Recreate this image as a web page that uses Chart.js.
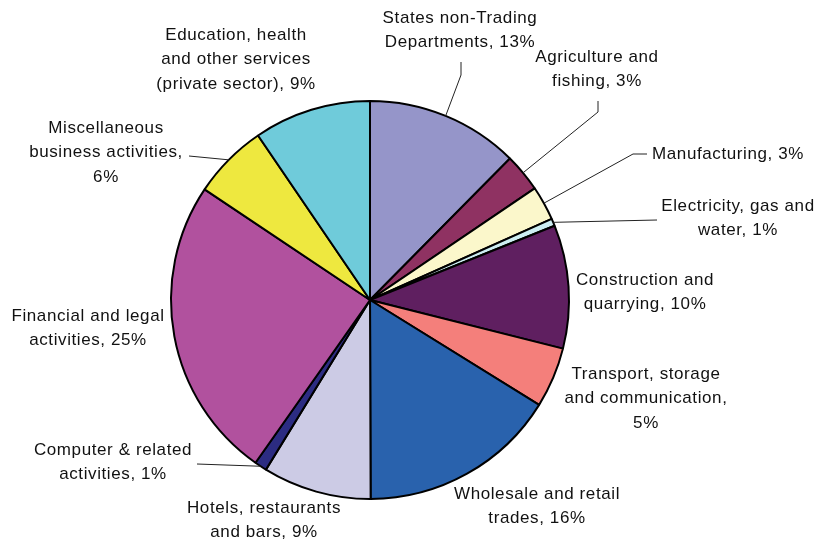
<!DOCTYPE html>
<html>
<head>
<meta charset="utf-8">
<script src="https://cdn.jsdelivr.net/npm/chart.js@4.4.0/dist/chart.umd.min.js"></script>
<style>
  html, body { margin: 0; padding: 0; background: #fff; }
  #wrap { width: 821px; height: 542px; position: relative; }
</style>
</head>
<body>
<div id="wrap"><canvas id="pieChart" width="821" height="542"></canvas></div>
<script>
// data, clockwise from 12 o'clock
const categories = [
    'States non-Trading Departments',
    'Agriculture and fishing',
    'Manufacturing',
    'Electricity, gas and water',
    'Construction and quarrying',
    'Transport, storage and communication',
    'Wholesale and retail trades',
    'Hotels, restaurants and bars',
    'Computer & related activities',
    'Financial and legal activities',
    'Miscellaneous business activities',
    'Education, health and other services (private sector)'
];
const shares = [12.4, 3.1, 2.8, 0.6, 10.0, 4.9, 16.1, 8.8, 1.0, 24.6, 6.1, 9.5];
const shownPercents = [13, 3, 3, 1, 10, 5, 16, 9, 1, 25, 6, 9];
const sliceColors = [
    '#9595c9', '#8f3262', '#fbf7cb', '#cdeef2', '#5f1f60', '#f47f7b',
    '#2962ad', '#cccbe5', '#2c2c82', '#b1519e', '#eee83f', '#6fcbda'
];
// wrapped label text, {p} = shown percentage
const labelLines = [
    ['States non-Trading', 'Departments, {p}%'],
    ['Agriculture and', 'fishing, {p}%'],
    ['Manufacturing, {p}%'],
    ['Electricity, gas and', 'water, {p}%'],
    ['Construction and', 'quarrying, {p}%'],
    ['Transport, storage', 'and communication,', '{p}%'],
    ['Wholesale and retail', 'trades, {p}%'],
    ['Hotels, restaurants', 'and bars, {p}%'],
    ['Computer & related', 'activities, {p}%'],
    ['Financial and legal', 'activities, {p}%'],
    ['Miscellaneous', 'business activities,', '{p}%'],
    ['Education, health', 'and other services', '(private sector), {p}%']
];

// label placement: text centre of first line + leader line points (ending on the slice)
const labelPlaces = [
    { x: 460, y: 18, leader: [[461, 62], [461, 75]] },
    { x: 597, y: 57, leader: [[598, 101], [598, 112]] },
    { x: 728, y: 154, leader: [[647, 154], [633, 154]] },
    { x: 738, y: 206, leader: [[657, 220]] },
    { x: 645, y: 280 },
    { x: 646, y: 374 },
    { x: 537, y: 494 },
    { x: 264, y: 508 },
    { x: 113, y: 450, leader: [[197, 464]] },
    { x: 88, y: 316 },
    { x: 106, y: 128, leader: [[189, 156]] },
    { x: 236, y: 35 }
];

const sliceLabels = {
    id: 'sliceLabels',
    afterDraw(chart) {
        const ctx = chart.ctx;
        const arcs = chart.getDatasetMeta(0).data;
        ctx.save();
        arcs.forEach((arc, i) => {
            const place = labelPlaces[i];
            const p = arc.getProps(['x', 'y', 'startAngle', 'endAngle', 'outerRadius'], true);
            const mid = (p.startAngle + p.endAngle) / 2;
            if (place.leader) {
                ctx.strokeStyle = '#222';
                ctx.lineWidth = 1;
                ctx.beginPath();
                ctx.moveTo(place.leader[0][0], place.leader[0][1]);
                place.leader.slice(1).forEach(pt => ctx.lineTo(pt[0], pt[1]));
                ctx.lineTo(p.x + Math.cos(mid) * p.outerRadius, p.y + Math.sin(mid) * p.outerRadius);
                ctx.stroke();
            }
            ctx.fillStyle = '#111';
            ctx.font = '17px "Liberation Sans", Arial, sans-serif';
            ctx.letterSpacing = '0.6px';
            ctx.textAlign = 'center';
            ctx.textBaseline = 'middle';
            labelLines[i].forEach((line, k) => {
                ctx.fillText(line.replace('{p}', shownPercents[i]), place.x, place.y + k * 24.5);
            });
        });
        ctx.restore();
    }
};

new Chart(document.getElementById('pieChart').getContext('2d'), {
    type: 'pie',
    data: {
        labels: categories,
        datasets: [{
            data: shares,
            backgroundColor: sliceColors,
            borderColor: '#000',
            borderWidth: 2
        }]
    },
    options: {
        responsive: false,
        animation: false,
        layout: { padding: { left: 170, right: 251, top: 100, bottom: 42 } },
        plugins: {
            legend: { display: false },
            tooltip: { enabled: false }
        }
    },
    plugins: [sliceLabels]
});
</script>
</body>
</html>
